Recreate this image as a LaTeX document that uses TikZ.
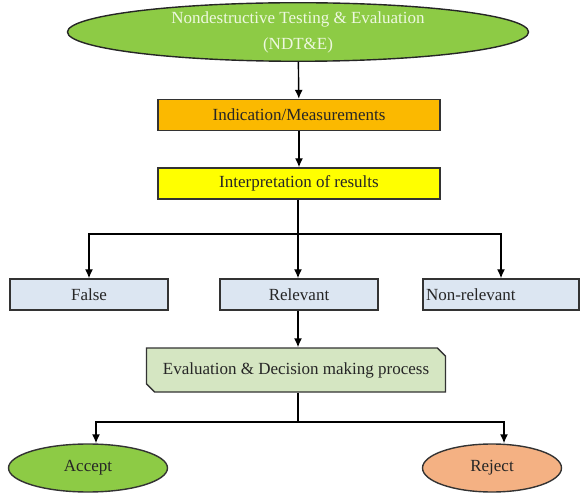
\documentclass[tikz,border=0pt]{standalone}
\usepackage{fontspec}
\setmainfont{Liberation Serif}
\usetikzlibrary{shapes.geometric,shapes.misc,arrows.meta}

\definecolor{ndtgreen}{HTML}{8DCB45}
\definecolor{ndttext}{HTML}{EEF8E0}
\definecolor{indorange}{HTML}{FBB900}
\definecolor{intyellow}{HTML}{FFFF00}
\definecolor{resblue}{HTML}{DCE6F2}
\definecolor{evalgreen}{HTML}{D5E6C2}
\definecolor{accgreen}{HTML}{8DCB45}
\definecolor{rejorange}{HTML}{F4B183}
\definecolor{edgegray}{HTML}{333333}

\begin{document}
\begin{tikzpicture}[x=1pt, y=-1pt, >={Latex[length=9pt,width=8pt]}, line width=1.4pt,
	every node/.style={font=\fontsize{17}{26}\selectfont, text=black!85},
	stepbox/.style={draw=edgegray, rectangle, inner sep=0pt, minimum height=31pt},
	resbox/.style={stepbox, fill=resblue, minimum width=157pt},
	endnode/.style={draw=black!80, ellipse, inner sep=0pt, minimum height=48pt}]
	\useasboundingbox (0,0) rectangle (581,494);

	% ==================== 上部：检测与解释 ====================
	\node[draw=black!85, ellipse, fill=ndtgreen, inner sep=0pt, minimum width=461pt,
		minimum height=54pt, align=center, text=ndttext] (ndt) at (298,32)
		{Nondestructive Testing \& Evaluation\\(NDT\&E)};
	\node[stepbox, fill=indorange, minimum width=282pt] (ind) at (299,115) {Indication/Measurements};
	\node[stepbox, fill=intyellow, minimum width=282pt] (interp) at (299,183.5) {Interpretation of results};

	\draw[->] (ndt) -- (ind);
	\draw[->] (ind) -- (interp);

	% ==================== 中部：三类指示 ====================
	\node[resbox, minimum width=158pt] (false) at (89,294.5) {False};
	\node[resbox, minimum width=158pt] (relevant) at (299,294.5) {Relevant};
	\node[resbox, minimum width=156pt, text width=150pt, align=left] (nonrel) at (501,294.5) {Non-relevant};

	\coordinate (split) at (298,234);
	\draw (interp.south -| split) -- (split);
	\draw[->] (split) -| (false);
	\draw[->] (split) -- (split |- relevant.north);
	\draw[->] (split) -| (nonrel);

	% ==================== 下部：评价与决策 ====================
	\node[chamfered rectangle, chamfered rectangle corners={north east,south west},
		chamfered rectangle xsep=5pt, draw=edgegray, fill=evalgreen, inner sep=0pt,
		minimum width=299pt, minimum height=44pt] (eval) at (296,370)
		{Evaluation \& Decision making process};
	\draw[->] (relevant.south -| split) -- (split |- eval.north);

	\node[endnode, fill=accgreen, minimum width=159pt] (accept) at (88,468) {Accept};
	\node[endnode, fill=rejorange, minimum width=139pt] (reject) at (492,468) {Reject};

	\coordinate (decide) at (298,422);
	\draw (eval.south -| decide) -- (decide);
	\draw[->] (decide) -| ([xshift=8pt]accept.north);
	\draw[->] (decide) -| ([xshift=12pt]reject.north);
\end{tikzpicture}
\end{document}
